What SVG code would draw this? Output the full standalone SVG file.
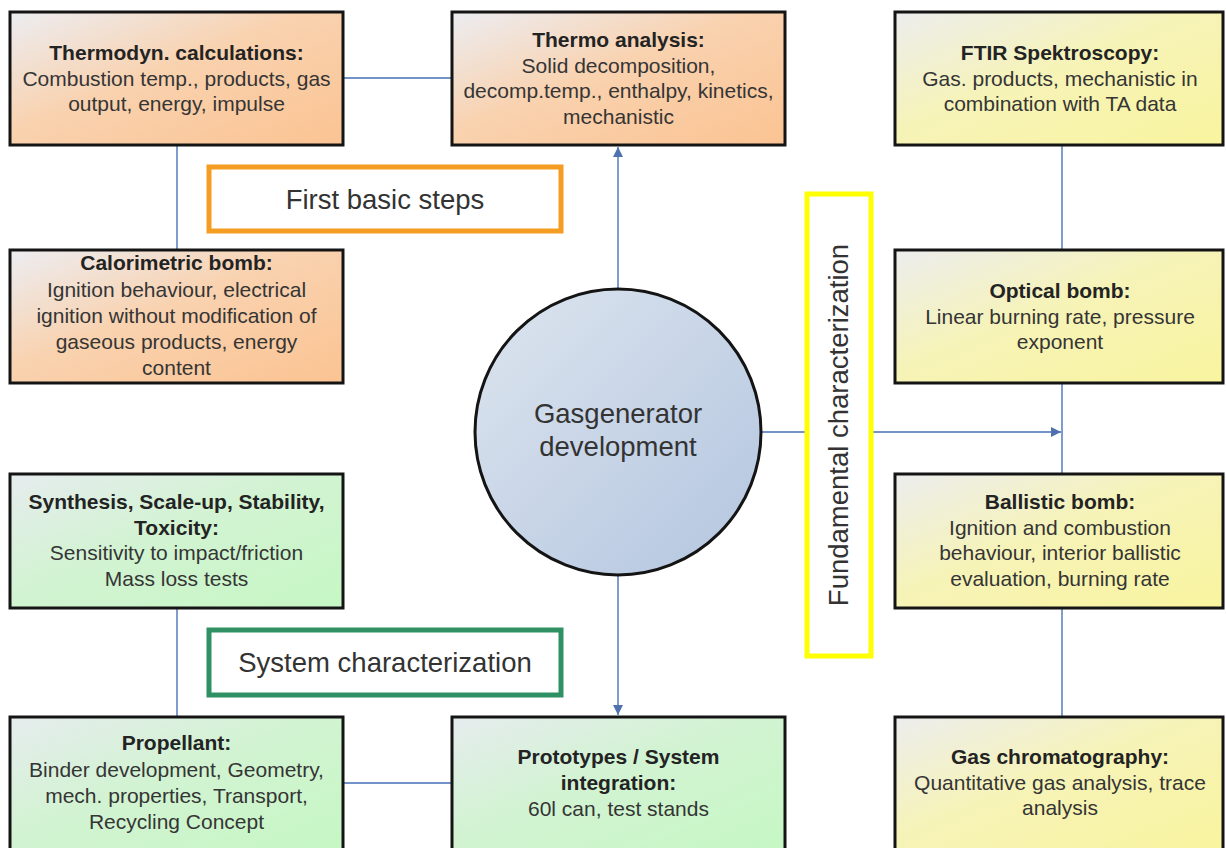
<svg xmlns="http://www.w3.org/2000/svg" width="1226" height="848" viewBox="0 0 1226 848">
<defs>
<linearGradient id="gOr" x1="0" y1="0" x2="1" y2="1">
<stop offset="0" stop-color="#ECEDF2"/><stop offset="0.45" stop-color="#F9D2AF"/><stop offset="1" stop-color="#FBC392"/>
</linearGradient>
<linearGradient id="gGr" x1="0" y1="0" x2="1" y2="1">
<stop offset="0" stop-color="#E6ECEE"/><stop offset="0.45" stop-color="#D2F3D2"/><stop offset="1" stop-color="#C6F7C4"/>
</linearGradient>
<linearGradient id="gYe" x1="0" y1="0" x2="1" y2="1">
<stop offset="0" stop-color="#ECEDEE"/><stop offset="0.45" stop-color="#F6F3B8"/><stop offset="1" stop-color="#F9F49E"/>
</linearGradient>
<linearGradient id="gCi" x1="0" y1="0" x2="1" y2="1">
<stop offset="0" stop-color="#DDE5EF"/><stop offset="1" stop-color="#B3C5DF"/>
</linearGradient>
<marker id="arr" viewBox="0 0 10 10" refX="10" refY="5" markerWidth="10" markerHeight="10" markerUnits="userSpaceOnUse" orient="auto">
<path d="M0,0 L10,5 L0,10 Z" fill="#4F72AE"/>
</marker>
<style>
.box{stroke:#141414;stroke-width:3}
.or{fill:url(#gOr)}
.gr{fill:url(#gGr)}
.ye{fill:url(#gYe)}
.t{font-family:"Liberation Sans",Arial,sans-serif;font-size:21px;text-anchor:middle;fill:#353535}
.b{font-weight:bold;fill:#232323}
.lbl{font-family:"Liberation Sans",Arial,sans-serif;font-size:27.5px;text-anchor:middle;fill:#333}
.con{stroke:#7392C8;stroke-width:1.8;fill:none}
</style>
</defs>
<rect width="1226" height="848" fill="#FFFFFF"/>
<g id="connectors">
<line class="con" x1="343" y1="78" x2="452" y2="78"/>
<line class="con" x1="177" y1="145" x2="177" y2="250"/>
<line class="con" x1="177" y1="608" x2="177" y2="717"/>
<line class="con" x1="343" y1="783" x2="452" y2="783"/>
<line class="con" x1="1062" y1="145" x2="1062" y2="717"/>
<line class="con" x1="618" y1="289" x2="618" y2="147" marker-end="url(#arr)"/>
<line class="con" x1="618" y1="575" x2="618" y2="715" marker-end="url(#arr)"/>
<line class="con" x1="761" y1="432" x2="1061" y2="432" marker-end="url(#arr)"/>
</g>
<g id="label-first">
<rect x="209" y="167" width="352" height="64" fill="#FFFFFF" stroke="#F49D22" stroke-width="5"/>
<text class="lbl" x="385" y="209">First basic steps</text>
</g>
<g id="label-system">
<rect x="209" y="630" width="352" height="65" fill="#FFFFFF" stroke="#2F9163" stroke-width="5"/>
<text class="lbl" x="385" y="672">System characterization</text>
</g>
<g id="label-fundamental">
<rect x="807" y="194" width="64" height="462" fill="#FFFFFF" stroke="#FFFF00" stroke-width="5"/>
<text class="lbl" transform="translate(848,425) rotate(-90)" x="0" y="0">Fundamental characterization</text>
</g>
<g id="center">
<circle cx="618" cy="432" r="143" fill="url(#gCi)" stroke="#141414" stroke-width="3"/>
<text class="lbl" x="618" y="423">Gasgenerator</text>
<text class="lbl" x="618" y="456">development</text>
</g>
<g id="thermodyn">
<rect class="box or" x="10" y="12" width="333" height="133"/>
<text class="t b" x="176.5" y="60">Thermodyn. calculations:</text>
<text class="t" x="176.5" y="86">Combustion temp., products, gas</text>
<text class="t" x="176.5" y="111">output, energy, impulse</text>
</g>
<g id="thermo-analysis">
<rect class="box or" x="452" y="12" width="333" height="133"/>
<text class="t b" x="618.5" y="47">Thermo analysis:</text>
<text class="t" x="618.5" y="73">Solid decomposition,</text>
<text class="t" x="618.5" y="98">decomp.temp., enthalpy, kinetics,</text>
<text class="t" x="618.5" y="124">mechanistic</text>
</g>
<g id="ftir">
<rect class="box ye" x="895" y="12" width="328" height="133"/>
<text class="t b" x="1060" y="60">FTIR Spektroscopy:</text>
<text class="t" x="1060" y="86">Gas. products, mechanistic in</text>
<text class="t" x="1060" y="111">combination with TA data</text>
</g>
<g id="calorimetric">
<rect class="box or" x="10" y="250" width="333" height="133"/>
<text class="t b" x="176.5" y="270">Calorimetric bomb:</text>
<text class="t" x="176.5" y="297">Ignition behaviour, electrical</text>
<text class="t" x="176.5" y="323">ignition without modification of</text>
<text class="t" x="176.5" y="349">gaseous products, energy</text>
<text class="t" x="176.5" y="375">content</text>
</g>
<g id="optical">
<rect class="box ye" x="895" y="250" width="328" height="133"/>
<text class="t b" x="1060" y="298">Optical bomb:</text>
<text class="t" x="1060" y="324">Linear burning rate, pressure</text>
<text class="t" x="1060" y="349">exponent</text>
</g>
<g id="synthesis">
<rect class="box gr" x="10" y="474" width="333" height="134"/>
<text class="t b" x="176.5" y="509">Synthesis, Scale-up, Stability,</text>
<text class="t b" x="176.5" y="535">Toxicity:</text>
<text class="t" x="176.5" y="560">Sensitivity to impact/friction</text>
<text class="t" x="176.5" y="586">Mass loss tests</text>
</g>
<g id="ballistic">
<rect class="box ye" x="895" y="474" width="328" height="134"/>
<text class="t b" x="1060" y="509">Ballistic bomb:</text>
<text class="t" x="1060" y="535">Ignition and combustion</text>
<text class="t" x="1060" y="560">behaviour, interior ballistic</text>
<text class="t" x="1060" y="586">evaluation, burning rate</text>
</g>
<g id="propellant">
<rect class="box gr" x="10" y="717" width="333" height="133"/>
<text class="t b" x="176.5" y="750">Propellant:</text>
<text class="t" x="176.5" y="777">Binder development, Geometry,</text>
<text class="t" x="176.5" y="803">mech. properties, Transport,</text>
<text class="t" x="176.5" y="829">Recycling Concept</text>
</g>
<g id="prototypes">
<rect class="box gr" x="452" y="717" width="333" height="133"/>
<text class="t b" x="618.5" y="764">Prototypes / System</text>
<text class="t b" x="618.5" y="790">integration:</text>
<text class="t" x="618.5" y="816">60l can, test stands</text>
</g>
<g id="gas-chromatography">
<rect class="box ye" x="895" y="717" width="328" height="133"/>
<text class="t b" x="1060" y="764">Gas chromatography:</text>
<text class="t" x="1060" y="790">Quantitative gas analysis, trace</text>
<text class="t" x="1060" y="815">analysis</text>
</g>
</svg>
